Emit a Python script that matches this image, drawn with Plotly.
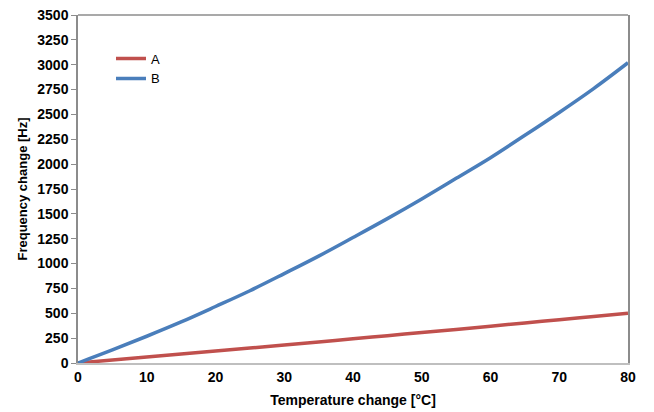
import plotly.graph_objects as go

# Temperature change in °C
temperature = [0, 5, 10, 15, 20, 25, 30, 35, 40, 45, 50, 55, 60, 65, 70, 75, 80]

# Frequency change in Hz for each sensor
freq_a = [0, 30, 60, 90, 120, 150, 181, 212, 243, 275, 306, 338, 370, 403, 435, 468, 501]
freq_b = [0, 131, 269, 413, 568, 727, 899, 1075, 1262, 1452, 1650, 1857, 2065, 2290, 2520, 2760, 3020]

y_ticks = list(range(0, 3501, 250))
x_ticks = list(range(0, 81, 10))

FONT = "Liberation Sans, Arial, sans-serif"

fig = go.Figure()
fig.add_trace(go.Scatter(x=temperature, y=freq_a, mode="lines", name="A",
                         line=dict(color="#C0504D", width=3.5, shape="spline")))
fig.add_trace(go.Scatter(x=temperature, y=freq_b, mode="lines", name="B",
                         line=dict(color="#4A7EBB", width=3.5, shape="spline")))

fig.update_layout(
    width=654, height=412,
    margin=dict(l=78, r=26, t=15, b=49),
    paper_bgcolor="white", plot_bgcolor="white",
    font=dict(family=FONT, size=12, color="black"),
    showlegend=True,
    legend=dict(x=0.06, y=0.918, xanchor="left", yanchor="top",
                bgcolor="rgba(0,0,0,0)", font=dict(size=13, family=FONT),
                tracegroupgap=0, itemwidth=30),
    xaxis=dict(range=[0, 80], tickvals=x_ticks,
               ticktext=[f"<b>{v}</b>" for v in x_ticks],
               showgrid=False, zeroline=False, automargin=False,
               showline=True, linecolor="#BFBFBF", linewidth=2, ticks="",
               tickfont=dict(size=14, family=FONT),
               title=dict(text="<b>Temperature change [°C]</b>", standoff=11,
                          font=dict(size=14, family=FONT))),
    yaxis=dict(range=[0, 3500], tickvals=y_ticks,
               ticktext=[f"<b>{v}</b>" for v in y_ticks],
               showgrid=False, zeroline=False, automargin=False,
               showline=True, linecolor="#8C8C8C", linewidth=1.5, mirror=True,
               ticks="outside", ticklen=5, tickcolor="#8C8C8C",
               tickfont=dict(size=14, family=FONT),
               title=dict(text="<b>Frequency change [Hz]</b>", standoff=7,
                          font=dict(size=13, family=FONT))),
)

# top border of the plot frame
fig.add_shape(type="line", xref="paper", yref="paper", x0=0, x1=1, y0=1, y1=1,
              line=dict(color="#8C8C8C", width=1.5))

fig.write_html("out.html")
